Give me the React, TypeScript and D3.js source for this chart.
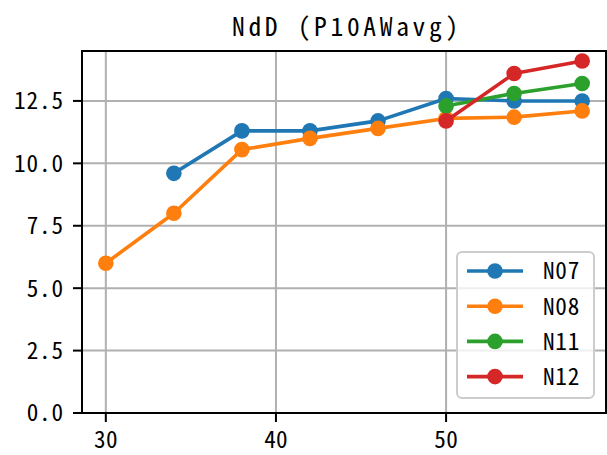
import React from "react";
import * as d3 from "d3";

const seriesNames = ["N07", "N08", "N11", "N12"];
const colors = ["#1f77b4", "#ff7f0e", "#2ca02c", "#d62728"];
const n07X = [34, 38, 42, 46, 50, 54, 58];
const n07Y = [9.6, 11.3, 11.3, 11.7, 12.6, 12.5, 12.5];
const n08X = [30, 34, 38, 42, 46, 50, 54, 58];
const n08Y = [6.0, 8.0, 10.55, 11.0, 11.4, 11.8, 11.85, 12.1];
const n11X = [50, 54, 58];
const n11Y = [12.3, 12.8, 13.2];
const n12X = [50, 54, 58];
const n12Y = [11.7, 13.6, 14.1];
const xTicks = [30, 40, 50];
const yTicks = [0, 2.5, 5, 7.5, 10, 12.5];
const title = "NdD (P10AWavg)";

const FONT = "'Noto Sans CJK JP', 'Noto Sans CJK SC', sans-serif";
const FS = 23.2;
const CW = 12.75;
const TFS = 25.5;
const TCW = 16.3;
const FW = 400;
const feat = { fontFeatureSettings: "'hwid' 1" } as React.CSSProperties;

export default function App() {
  const W = 607, H = 455;
  const left = 82, right = 606, top = 51, bottom = 413;
  const x = d3.scaleLinear().domain([28.6, 59.4]).range([left, right]);
  const y = d3.scaleLinear().domain([0, 14.5]).range([bottom, top]);
  const series = [
    { name: seriesNames[0], xs: n07X, ys: n07Y },
    { name: seriesNames[1], xs: n08X, ys: n08Y },
    { name: seriesNames[2], xs: n11X, ys: n11Y },
    { name: seriesNames[3], xs: n12X, ys: n12Y },
  ];
  const line = d3.line<[number, number]>().x(d => x(d[0])).y(d => y(d[1]));
  const legTop = 252, legBottom = 398, legLeft = 457, legRight = 594;
  const rowY = (i: number) => 271 + i * 35.2;
  const LW = 3.6, MR = 7.8;
  const txt = (s: string, cw: number) => ({ textLength: s.length * cw - 2, lengthAdjust: "spacing" as const });
  return (
    <div style={{ position: "absolute", left: 0, top: 0 }}>
      <svg width={W} height={H} style={{ display: "block", background: "#fff" }}>
        <defs>
          <clipPath id="plot">
            <rect x={left} y={top} width={right - left} height={bottom - top} />
          </clipPath>
        </defs>
        {xTicks.map(t => (
          <line key={"gx" + t} x1={x(t)} x2={x(t)} y1={top} y2={bottom} stroke="#b0b0b0" strokeWidth={2} />
        ))}
        {yTicks.map(t => (
          <line key={"gy" + t} x1={left} x2={right} y1={y(t)} y2={y(t)} stroke="#b0b0b0" strokeWidth={2} />
        ))}
        <g clipPath="url(#plot)">
          {series.map((s, i) => {
            const pts = s.xs.map((v, j) => [v, s.ys[j]] as [number, number]);
            return (
              <g key={s.name}>
                <path d={line(pts) || ""} fill="none" stroke={colors[i]} strokeWidth={LW} strokeLinejoin="round" strokeLinecap="square" />
                {pts.map((p, j) => (
                  <circle key={j} cx={x(p[0])} cy={y(p[1])} r={MR} fill={colors[i]} />
                ))}
              </g>
            );
          })}
        </g>
        <rect x={left} y={top} width={right - left} height={bottom - top} fill="none" stroke="#000" strokeWidth={2} />
        {xTicks.map(t => (
          <g key={"tx" + t}>
            <line x1={x(t)} x2={x(t)} y1={bottom} y2={bottom + 9} stroke="#000" strokeWidth={2} />
            <text x={x(t)} y={448} textAnchor="middle" fontFamily={FONT} fontSize={FS} fontWeight={FW} style={feat} {...txt(String(t), CW)}>{t}</text>
          </g>
        ))}
        {yTicks.map(t => (
          <g key={"ty" + t}>
            <line x1={left - 9} x2={left} y1={y(t)} y2={y(t)} stroke="#000" strokeWidth={2} />
            <text x={63} y={y(t)} dy="0.36em" textAnchor="end" fontFamily={FONT} fontSize={FS} fontWeight={FW} style={feat} {...txt(t.toFixed(1), CW)}>{t.toFixed(1)}</text>
          </g>
        ))}
        <text x={232} y={36} textAnchor="start" fontFamily={FONT} fontSize={TFS} fontWeight={FW} style={feat} {...txt(title, TCW)}>{title}</text>
        <rect x={legLeft} y={legTop} width={legRight - legLeft} height={legBottom - legTop} rx={5} fill="#fff" fillOpacity={0.8} stroke="#cccccc" strokeWidth={2} />
        {series.map((s, i) => (
          <g key={"leg" + s.name}>
            <line x1={467} x2={523} y1={rowY(i)} y2={rowY(i)} stroke={colors[i]} strokeWidth={LW} />
            <circle cx={495} cy={rowY(i)} r={MR} fill={colors[i]} />
            <text x={543} y={rowY(i)} dy="0.36em" fontFamily={FONT} fontSize={FS} fontWeight={FW} style={feat} {...txt(s.name, CW)}>{s.name}</text>
          </g>
        ))}
      </svg>
    </div>
  );
}
